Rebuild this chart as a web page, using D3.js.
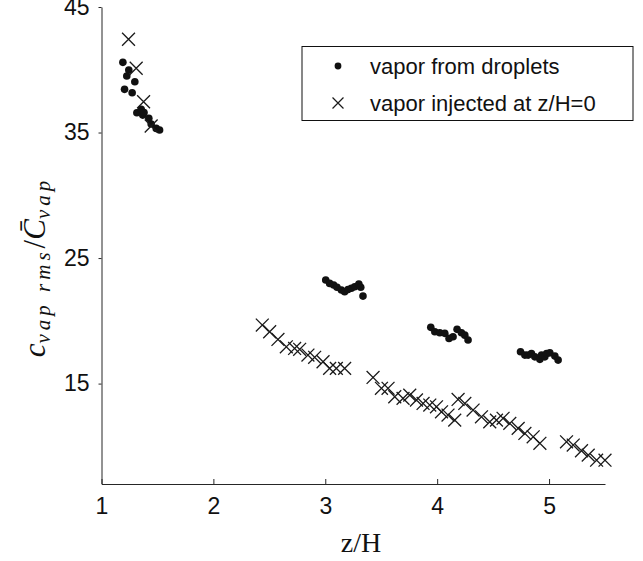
<!DOCTYPE html>
<html><head><meta charset="utf-8">
<script src="https://cdn.jsdelivr.net/npm/d3@7"></script>
<style>
html,body{margin:0;padding:0;background:#fff;}
svg{display:block;}
</style></head>
<body>
<svg id="chart" width="643" height="561"></svg>
<script>
// ---- data ----
const xTicks = [1, 2, 3, 4, 5];
const yTicks = [15, 25, 35, 45];
const legendLabels = ["vapor from droplets", "vapor injected at z/H=0"];

const dropletsZ = [1.191,1.244,1.226,1.298,1.206,1.274,1.316,1.355,1.369,1.38,1.423,1.444,1.489,1.519,
  3.004,3.039,3.075,3.105,3.144,3.173,3.203,3.233,3.263,3.30,3.317,3.337,
  3.943,3.979,4.023,4.068,4.106,4.142,4.178,4.217,4.247,4.276,
  4.745,4.784,4.813,4.843,4.873,4.918,4.933,4.962,4.978,5.007,5.052,5.081];
const dropletsC = [40.59,39.98,39.50,39.05,38.44,38.17,36.58,36.85,36.39,36.6,36.13,35.68,35.33,35.20,
  23.25,22.98,22.85,22.67,22.45,22.31,22.5,22.59,22.71,22.93,22.67,21.97,
  19.48,19.13,19.05,19.0,18.60,18.73,19.32,19.05,18.86,18.47,
  17.54,17.27,17.27,17.40,17.13,16.93,17.27,17.13,17.40,17.45,17.19,16.87];

const injectedZ = [1.2415,1.310,1.376,1.444,
  2.437,2.503,2.577,2.652,2.726,2.771,2.845,2.905,2.98,3.039,3.099,3.173,
  3.427,3.502,3.561,3.621,3.695,3.755,3.815,3.874,3.934,3.994,4.039,4.097,4.157,
  4.187,4.247,4.321,4.396,4.47,4.53,4.589,4.649,4.724,4.784,4.858,4.918,
  5.156,5.216,5.29,5.35,5.425,5.5];
const injectedC = [42.43,40.12,37.45,35.52,
  19.66,19.13,18.52,17.93,17.80,17.73,17.27,17.09,16.74,16.21,16.21,16.21,
  15.49,14.62,14.62,13.95,13.82,14.08,13.69,13.42,13.29,13.15,12.75,12.49,12.09,
  13.74,13.42,12.89,12.35,11.95,12.09,12.23,11.83,11.43,11.03,10.76,10.24,
  10.36,10.10,9.65,9.30,8.90,8.90];

// ---- layout ----
const svg = d3.select("#chart");
const mLeft = 101.5, mRight = 605, mTop = 7, mBottom = 484;
const x = d3.scaleLinear().domain([1, 5.5]).range([mLeft, mRight]);
const y = d3.scaleLinear().domain([7, 45]).range([mBottom, mTop]);
const axisColor = "#262626";
const tickFont = "'Liberation Sans', Arial, sans-serif";

// axes
const xAxis = svg.append("g").attr("transform", `translate(0,${mBottom})`)
  .call(d3.axisBottom(x).tickValues(xTicks).tickSize(-5).tickSizeOuter(0).tickPadding(14).tickFormat(d3.format("d")));
const yAxis = svg.append("g").attr("transform", `translate(${mLeft},0)`)
  .call(d3.axisLeft(y).tickValues(yTicks).tickSize(3).tickSizeOuter(0).tickPadding(9).tickFormat(d3.format("d")));
[xAxis, yAxis].forEach(g => {
  g.select(".domain").attr("stroke", axisColor).attr("stroke-width", 1);
  g.selectAll(".tick line").attr("stroke", axisColor);
  g.selectAll(".tick text").attr("fill", "#111").style("font-family", tickFont).style("font-size", "23px");
});

// droplets (dots)
const dots = d3.zip(dropletsZ, dropletsC);
svg.append("g").selectAll("circle").data(dots).join("circle")
  .attr("cx", d => x(d[0])).attr("cy", d => y(d[1])).attr("r", 3.8).attr("fill", "#111");

// injected (crosses)
const cross = d3.symbol().type(d3.symbolX).size(110);
const crosses = d3.zip(injectedZ, injectedC);
svg.append("g").selectAll("path").data(crosses).join("path")
  .attr("d", cross).attr("transform", d => `translate(${x(d[0])},${y(d[1])})`)
  .attr("fill", "none").attr("stroke", "#1a1a1a").attr("stroke-width", 1.3);

// legend
const lg = svg.append("g");
lg.append("rect").attr("x", 302).attr("y", 46.5).attr("width", 331).attr("height", 74)
  .attr("fill", "#fff").attr("stroke", "#111").attr("stroke-width", 1);
lg.append("circle").attr("cx", 338).attr("cy", 66).attr("r", 3.4).attr("fill", "#111");
lg.append("path").attr("d", d3.symbol().type(d3.symbolX).size(80)).attr("transform", "translate(338,103)")
  .attr("fill", "none").attr("stroke", "#1a1a1a").attr("stroke-width", 1.2);
lg.selectAll("text").data(legendLabels).join("text")
  .attr("x", 370).attr("y", (d, i) => 66 + i * 37).attr("dy", "0.35em")
  .style("font-family", tickFont).style("font-size", "22px").attr("fill", "#111")
  .text(d => d);

// x label
svg.append("text").attr("x", 361).attr("y", 552).attr("text-anchor", "middle")
  .style("font-family", "'Liberation Serif', 'Times New Roman', serif").style("font-size", "28px")
  .attr("fill", "#111").text("z/H");

// y label (math)
const yl = svg.append("text").attr("transform", "translate(45,267) rotate(-90)")
  .attr("text-anchor", "middle")
  .style("font-family", "'Liberation Serif', 'Times New Roman', serif").style("font-style", "italic")
  .attr("fill", "#111");
yl.append("tspan").style("font-size", "31px").text("c");
yl.append("tspan").style("font-size", "21px").attr("dy", 5).attr("letter-spacing", "4px").text("vap rms");
yl.append("tspan").style("font-size", "31px").style("font-style", "normal").attr("dy", -5).text("/");
yl.append("tspan").style("font-size", "31px").text("C\u0304");
yl.append("tspan").style("font-size", "21px").attr("dy", 5).attr("letter-spacing", "4px").text("vap");
</script>
</body></html>
